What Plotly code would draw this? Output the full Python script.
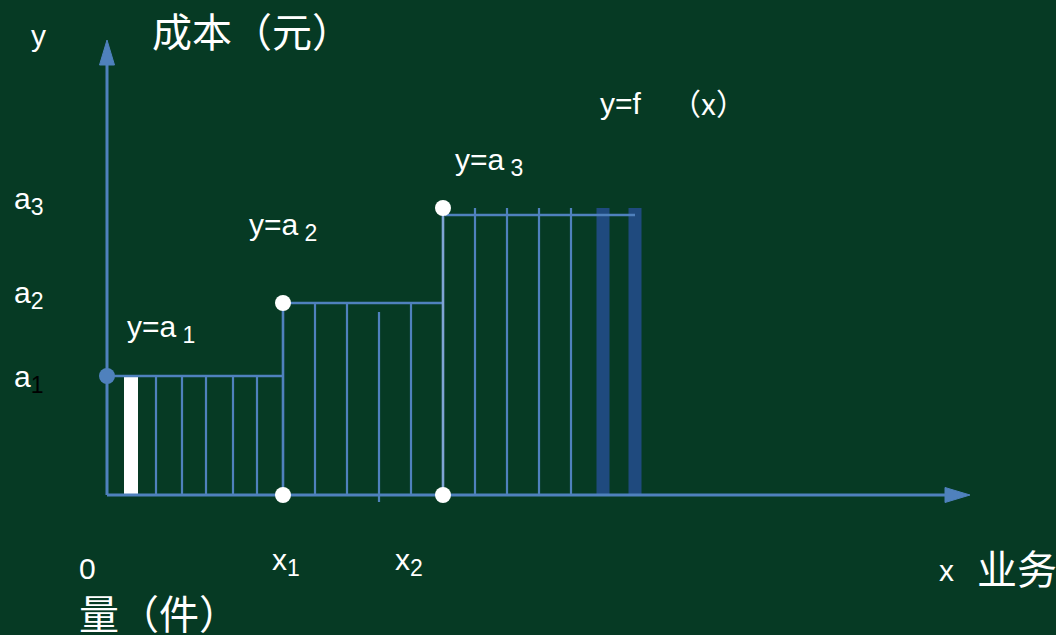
import plotly.graph_objects as go

# step cost function: breakpoints and levels (origin = 0,0)
breaks = [0, 176, 336]          # 0, x1, x2
levels = [119, 192, 280]        # a1, a2, a3
seg3_top = 287
end_x = 528
axis_x_len = 838
axis_y_len = 430

hatch_x = [49, 75, 99, 126, 150, 208, 240, 304, 368, 400, 432, 464]
mid_tick = [272, -7, 183]
white_bar = [24]
dark_bars = [496, 528]

level_names = ["1", "2", "3"]

BG = "#063a24"
BLUE = "#4f81bd"
LIGHT = "#7fa4d4"
DARK = "#1f4a7e"
FONT = "Liberation Sans, Arial, Noto Sans CJK SC"
CJK_FONT = "Noto Sans CJK SC"


def sub(s, color=None):
    style = "font-size:23px"
    if color:
        style += ";color:" + color
    return "<sub><span style='%s'>%s</span></sub>" % (style, s)


fig = go.Figure()

# bars
fig.add_trace(go.Bar(x=white_bar, y=[levels[0]], width=14, marker=dict(color="white", line_width=0)))
fig.add_trace(go.Bar(x=dark_bars, y=[seg3_top] * 2, width=13, marker=dict(color=DARK, line_width=0)))


def seg_top(x):
    if x < breaks[1]:
        return levels[0]
    if x < breaks[2]:
        return levels[1]
    return seg3_top


# hatch lines
hx, hy = [], []
for x in hatch_x:
    hx += [x, x, None]
    hy += [0, seg_top(x), None]
hx += [mid_tick[0], mid_tick[0], None]
hy += [mid_tick[1], mid_tick[2], None]
fig.add_trace(go.Scatter(x=hx, y=hy, mode="lines", line=dict(color=BLUE, width=2.2), hoverinfo="skip"))

# step outline
sx = [breaks[0], breaks[1], None, breaks[1], breaks[1], breaks[2], None, breaks[2] + 2, end_x]
sy = [levels[0], levels[0], None, 0, levels[1], levels[1], None, levels[2], levels[2]]
fig.add_trace(go.Scatter(x=sx, y=sy, mode="lines", line=dict(color=BLUE, width=2.6), hoverinfo="skip"))
fig.add_trace(go.Scatter(x=[breaks[2], breaks[2]], y=[0, seg3_top], mode="lines",
                         line=dict(color=LIGHT, width=2.6), hoverinfo="skip"))

# axes
fig.add_trace(go.Scatter(x=[0, axis_x_len, None, 0, 0], y=[0, 0, None, 0, axis_y_len],
                         mode="lines", line=dict(color=BLUE, width=3), hoverinfo="skip"))
ah, al = 7.5, 25
fig.add_trace(go.Scatter(x=[axis_x_len, axis_x_len + al, axis_x_len, axis_x_len],
                         y=[ah, 0, -ah, ah], fill="toself", fillcolor=BLUE,
                         mode="lines", line=dict(color=BLUE, width=1), hoverinfo="skip"))
fig.add_trace(go.Scatter(x=[-ah, 0, ah, -ah],
                         y=[axis_y_len, axis_y_len + al, axis_y_len, axis_y_len], fill="toself",
                         fillcolor=BLUE, mode="lines", line=dict(color=BLUE, width=1), hoverinfo="skip"))

# points
fig.add_trace(go.Scatter(x=[breaks[1], breaks[1], breaks[2], breaks[2]],
                         y=[0, levels[1], 0, seg3_top], mode="markers",
                         marker=dict(color="white", size=16), hoverinfo="skip"))
fig.add_trace(go.Scatter(x=[0], y=[levels[0]], mode="markers",
                         marker=dict(color=BLUE, size=16), hoverinfo="skip"))


def label(x, y, text, size=30, family=FONT):
    fig.add_annotation(x=x, y=y, text=text, showarrow=False, xanchor="left", yanchor="middle",
                       font=dict(color="white", size=size, family=family))


# labels (pixel-like offsets from origin)
label(-78, 460, "y")
label(43, 462, "成本（元）", 40)
label(491, 392, "y=f")
label(562, 393, "（x）", 30, CJK_FONT)
label(346, 333, "y=a" + sub("\u00a0" + level_names[2]))
label(140, 268, "y=a" + sub("\u00a0" + level_names[1]))
label(18, 166, "y=a" + sub("\u00a0" + level_names[0]))
label(-95, 294, "a" + sub(level_names[2]))
label(-95, 200, "a" + sub(level_names[1]))
label(-95, 116, "a" + sub(level_names[0], "black"))
label(-30, -73, "0")
label(-30, -120, "量（件）", 40)
label(163, -67, "x" + sub(level_names[0]))
label(286, -67, "x" + sub(level_names[1]))
label(830, -75, "x")
label(868, -75, "业务", 40)

fig.update_layout(
    width=1056, height=635, margin=dict(l=0, r=0, t=0, b=0),
    paper_bgcolor=BG, plot_bgcolor=BG, showlegend=False, barmode="overlay",
    xaxis=dict(range=[-107, 949], visible=False, fixedrange=True),
    yaxis=dict(range=[-140, 495], visible=False, fixedrange=True),
)

fig.write_html("out.html", config={"displayModeBar": False},
               post_script="document.body.style.margin='0';document.body.style.background='%s';" % BG)
